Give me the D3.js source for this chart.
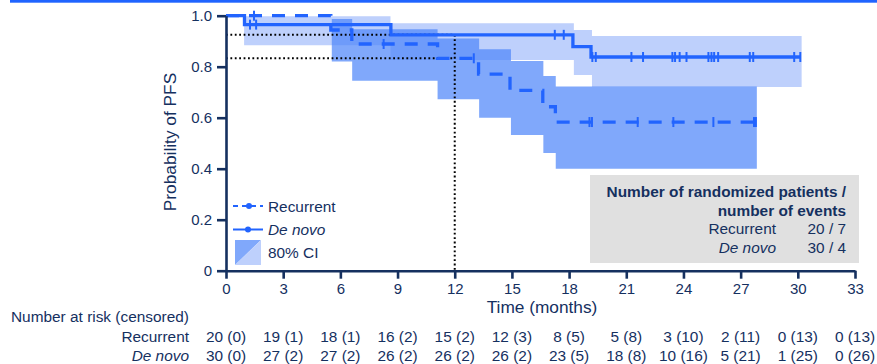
<!DOCTYPE html>
<html>
<head>
<meta charset="utf-8">
<script src="https://cdn.jsdelivr.net/npm/d3@7"></script>
<style>
body { margin: 0; background: #fff; }
svg { display: block; font-family: "Liberation Sans", Arial, sans-serif; }
</style>
</head>
<body>
<script>
const WIDTH = 877, HEIGHT = 364;
const NAVY = "#15305f";
const BLUE = "#2264fe";
const FS = 15.4;

// Kaplan-Meier steps (months, probability)
const recurrentTimes = [0, 5.5, 6.6, 11.1, 13.25, 14.9, 16.62, 17.28];
const recurrentSurv = [1, 0.944, 0.889, 0.833, 0.771, 0.707, 0.643, 0.583];
const recurrentEnd = 27.8;
const recurrentCensor = [1.47, 8.27, 13.0, 19.07, 19.2, 21.6, 23.47, 25.57, 27.7, 27.8];

const deNovoTimes = [0, 0.97, 8.65, 18.2, 19.15];
const deNovoSurv = [1, 0.965, 0.925, 0.879, 0.838];
const deNovoEnd = 30.15;
const deNovoCensor = [1.26, 1.58, 17.25, 17.72, 19.22, 19.4, 21.27, 21.88, 23.42, 23.56, 23.8, 24.16,
  25.31, 25.47, 25.61, 25.82, 27.48, 27.66, 29.81, 30.13];

// 80% confidence bands
const recurrentCiTimes = [5.55, 6.62, 11.1, 13.28, 14.95, 16.65, 17.3, 27.85];
const recurrentCiLow = [0.82, 0.745, 0.672, 0.600, 0.532, 0.462, 0.40];
const recurrentCiHigh = [0.987, 0.947, 0.911, 0.868, 0.822, 0.764, 0.722];

const deNovoCiTimes = [0.95, 8.63, 18.25, 19.2, 30.2];
const deNovoCiLow = [0.884, 0.826, 0.767, 0.72];
const deNovoCiHigh = [0.998, 0.97, 0.944, 0.92];

const landmark = 12;
const xTicks = [0, 3, 6, 9, 12, 15, 18, 21, 24, 27, 30, 33];
const yTicks = [0, 0.2, 0.4, 0.6, 0.8, 1.0];

const recurrentRisk = ["20 (0)", "19 (1)", "18 (1)", "16 (2)", "15 (2)", "12 (3)", "8 (5)", "5 (8)", "3 (10)", "2 (11)", "0 (13)", "0 (13)"];
const deNovoRisk = ["30 (0)", "27 (2)", "27 (2)", "26 (2)", "26 (2)", "26 (2)", "23 (5)", "18 (8)", "10 (16)", "5 (21)", "1 (25)", "0 (26)"];

const x = d3.scaleLinear().domain([0, 33]).range([226, 855]);
const y = d3.scaleLinear().domain([0, 1]).range([270.7, 15.7]);

const svg = d3.select("body").append("svg")
  .attr("width", WIDTH).attr("height", HEIGHT);

// top rule
svg.append("rect").attr("x", 10).attr("y", 0).attr("width", WIDTH - 10).attr("height", 2.7).attr("fill", "#2064ff");

function stepPoints(times, surv, end) {
  const pts = times.map((t, i) => [t, surv[i]]);
  pts.push([end, surv[surv.length - 1]]);
  return pts;
}
function ciPoints(times, lo, hi) {
  const pts = lo.map((l, i) => ({ t: times[i], lo: l, hi: hi[i] }));
  pts.push({ t: times[times.length - 1], lo: lo[lo.length - 1], hi: hi[hi.length - 1] });
  return pts;
}
function survAt(times, surv, t) {
  let v = surv[0];
  times.forEach((tt, i) => { if (tt <= t) v = surv[i]; });
  return v;
}

const band = d3.area().curve(d3.curveStepAfter)
  .x(d => x(d.t)).y0(d => y(d.lo)).y1(d => y(d.hi));
const step = d3.line().curve(d3.curveStepAfter)
  .x(d => x(d[0])).y(d => y(d[1]));

svg.append("path").attr("d", band(ciPoints(deNovoCiTimes, deNovoCiLow, deNovoCiHigh)))
  .attr("fill", "#bed0fc");
svg.append("path").attr("d", band(ciPoints(recurrentCiTimes, recurrentCiLow, recurrentCiHigh)))
  .attr("fill", "rgb(79,134,250)").attr("fill-opacity", 0.72);

// 12-month landmark
const lmDeNovo = survAt(deNovoTimes, deNovoSurv, landmark);
const lmRecurrent = survAt(recurrentTimes, recurrentSurv, landmark);
const dots = svg.append("g").attr("stroke", "#000").attr("stroke-width", 2).attr("stroke-dasharray", "1.8,2.6").attr("fill", "none");
[lmDeNovo, lmRecurrent].forEach(v => {
  dots.append("line").attr("x1", x(0)).attr("x2", x(landmark)).attr("y1", y(v)).attr("y2", y(v));
});
dots.append("line").attr("x1", x(landmark)).attr("x2", x(landmark)).attr("y1", y(lmDeNovo)).attr("y2", y(0));

// curves
svg.append("path").attr("d", step(stepPoints(recurrentTimes, recurrentSurv, recurrentEnd)))
  .attr("fill", "none").attr("stroke", BLUE).attr("stroke-width", 3.3).attr("stroke-dasharray", "13,10");
svg.append("path").attr("d", step(stepPoints(deNovoTimes, deNovoSurv, deNovoEnd)))
  .attr("fill", "none").attr("stroke", BLUE).attr("stroke-width", 3.3);

function censorMarks(times, surv, cens) {
  svg.append("g").selectAll("line").data(cens).enter().append("line")
    .attr("x1", d => x(d)).attr("x2", d => x(d))
    .attr("y1", d => y(survAt(times, surv, d)) - 5)
    .attr("y2", d => y(survAt(times, surv, d)) + 5)
    .attr("stroke", BLUE).attr("stroke-width", 2);
}
censorMarks(recurrentTimes, recurrentSurv, recurrentCensor);
censorMarks(deNovoTimes, deNovoSurv, deNovoCensor);

// axes
const yAxis = d3.axisLeft(y).tickValues(yTicks)
  .tickFormat(d => d === 0 ? "0" : d3.format(".1f")(d))
  .tickSize(9).tickPadding(5).tickSizeOuter(0);
const xAxis = d3.axisBottom(x).tickValues(xTicks)
  .tickSize(8).tickPadding(5).tickSizeOuter(0);

const gy = svg.append("g").attr("transform", "translate(" + x(0) + ",0)").call(yAxis);
const gx = svg.append("g").attr("transform", "translate(0," + y(0) + ")").call(xAxis);
[gx, gy].forEach(g => {
  g.attr("font-family", null).attr("font-size", 15);
  g.selectAll("path, line").attr("stroke", NAVY).attr("stroke-width", 2.6);
  g.selectAll("text").attr("fill", NAVY);
});

svg.append("text").attr("transform", "translate(176,142) rotate(-90)")
  .attr("text-anchor", "middle").attr("font-size", 17.3).attr("fill", NAVY)
  .text("Probability of PFS");
svg.append("text").attr("x", 542).attr("y", 313)
  .attr("text-anchor", "middle").attr("font-size", 17.3).attr("fill", NAVY)
  .text("Time (months)");

// legend
const lg = svg.append("g");
lg.append("line").attr("x1", 233).attr("x2", 263).attr("y1", 206).attr("y2", 206)
  .attr("stroke", BLUE).attr("stroke-width", 2).attr("stroke-dasharray", "5,4");
lg.append("circle").attr("cx", 249).attr("cy", 206).attr("r", 3).attr("fill", BLUE);
lg.append("line").attr("x1", 233).attr("x2", 263).attr("y1", 229.5).attr("y2", 229.5)
  .attr("stroke", BLUE).attr("stroke-width", 2);
lg.append("circle").attr("cx", 248).attr("cy", 229.5).attr("r", 3).attr("fill", BLUE);
lg.append("path").attr("d", "M235,240H261L235,265Z").attr("fill", "#80a8fb");
lg.append("path").attr("d", "M261,240V265H235Z").attr("fill", "#bed0fc");
const lgText = [["Recurrent", 212, "normal"], ["De novo", 234.5, "italic"], ["80% CI", 257.5, "normal"]];
lgText.forEach(d => {
  lg.append("text").attr("x", 268).attr("y", d[1]).attr("font-size", FS)
    .attr("font-style", d[2]).attr("fill", NAVY).text(d[0]);
});

// summary box
const box = svg.append("g");
box.append("rect").attr("x", 590).attr("y", 175).attr("width", 269).attr("height", 88).attr("fill", "#e0e0e0");
box.append("text").attr("x", 846).attr("y", 196.5).attr("text-anchor", "end").attr("font-size", FS)
  .attr("font-weight", "bold").attr("fill", NAVY).text("Number of randomized patients /");
box.append("text").attr("x", 846).attr("y", 215.5).attr("text-anchor", "end").attr("font-size", FS)
  .attr("font-weight", "bold").attr("fill", NAVY).text("number of events");
const boxRows = [["Recurrent", "20 / 7", 234, "normal"], ["De novo", "30 / 4", 253, "italic"]];
boxRows.forEach(r => {
  box.append("text").attr("x", 776).attr("y", r[2]).attr("text-anchor", "end").attr("font-size", FS)
    .attr("font-style", r[3]).attr("fill", NAVY).text(r[0]);
  box.append("text").attr("x", 846).attr("y", r[2]).attr("text-anchor", "end").attr("font-size", FS)
    .attr("fill", NAVY).text(r[1]);
});

// number at risk table
const risk = svg.append("g").attr("font-size", FS).attr("fill", NAVY);
risk.append("text").attr("x", 11).attr("y", 322).text("Number at risk (censored)");
risk.append("text").attr("x", 189).attr("y", 341.5).attr("text-anchor", "end").text("Recurrent");
risk.append("text").attr("x", 189).attr("y", 360.5).attr("text-anchor", "end").attr("font-style", "italic").text("De novo");
[[recurrentRisk, 341.5], [deNovoRisk, 360.5]].forEach(row => {
  risk.append("g").selectAll("text").data(row[0]).enter().append("text")
    .attr("x", (d, i) => x(xTicks[i])).attr("y", row[1])
    .attr("text-anchor", "middle").text(d => d);
});
</script>
</body>
</html>
